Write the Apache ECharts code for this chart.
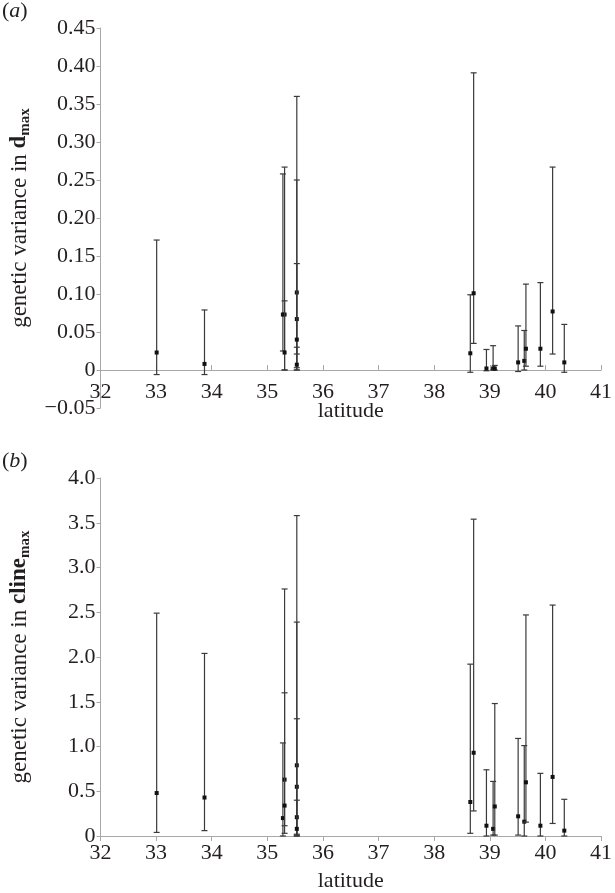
<!DOCTYPE html>
<html>
<head>
<meta charset="utf-8">
<script src="https://cdn.jsdelivr.net/npm/echarts@6/dist/echarts.min.js"></script>
<style>
html,body{margin:0;padding:0;background:#fff;}
#chart{width:615px;height:893px;}
</style>
</head>
<body>
<div id="chart"></div>
<script>
// Latitudes of populations (shared by both panels)
var latitude = [33.01, 33.87, 35.28, 35.31, 35.31, 35.53, 35.53, 35.53, 35.53,
  38.65, 38.71, 38.94, 39.06, 39.09, 39.51, 39.62, 39.65, 39.91, 40.13, 40.34];

// Panel (a): genetic variance in d_max
var dmaxValue = [0.023, 0.008, 0.073, 0.073, 0.023, 0.102, 0.067, 0.040, 0.007,
  0.022, 0.101, 0.002, 0.002, 0.002, 0.010, 0.012, 0.028, 0.028, 0.077, 0.010];
var dmaxLow = [-0.006, -0.006, 0.025, 0.000, 0.000, 0.021, 0.000, 0.003, 0.000,
  -0.003, 0.035, -0.001, 0.000, 0.000, -0.002, 0.000, 0.005, 0.005, 0.021, -0.003];
var dmaxHigh = [0.171, 0.079, 0.258, 0.267, 0.091, 0.360, 0.250, 0.140, 0.030,
  0.099, 0.391, 0.027, 0.032, 0.006, 0.058, 0.052, 0.113, 0.115, 0.267, 0.060];

// Panel (b): genetic variance in cline_max
var clineValue = [0.48, 0.43, 0.20, 0.63, 0.34, 0.79, 0.55, 0.21, 0.08,
  0.38, 0.93, 0.115, 0.08, 0.33, 0.22, 0.16, 0.60, 0.115, 0.66, 0.06];
var clineLow = [0.04, 0.06, 0.00, 0.115, 0.03, 0.02, 0.01, 0.00, 0.00,
  0.03, 0.28, 0.00, 0.01, 0.01, 0.01, 0.00, 0.155, 0.00, 0.14, 0.00];
var clineHigh = [2.49, 2.04, 1.04, 2.76, 1.60, 3.58, 2.39, 1.31, 0.40,
  1.92, 3.54, 0.74, 0.61, 1.48, 1.09, 1.01, 2.47, 0.70, 2.58, 0.41];

// Axis tick settings
var latTicks = {min: 32, max: 41, interval: 1};
var dmaxTicks = {min: -0.05, max: 0.45, interval: 0.05};
var clineTicks = {min: 0, max: 4, interval: 0.5};

function build(vals, lows, highs) {
  return latitude.map(function (l, i) { return [l, vals[i], lows[i], highs[i]]; });
}

var FONT = '"Liberation Serif", "Times New Roman", Times, serif';
var TXT = '#231f20';
var AX = '#a8a8a8';
var TICKFS = 22;
var NAMEFS = 23;

function renderErr(params, api) {
  var x = api.value(0), v = api.value(1), lo = api.value(2), hi = api.value(3);
  var pH = api.coord([x, hi]), pL = api.coord([x, lo]), pV = api.coord([x, v]);
  var cw = 3;
  var st = {stroke: '#3a3a3a', lineWidth: 1.2};
  return {
    type: 'group',
    children: [
      {type: 'line', shape: {x1: pH[0], y1: pH[1], x2: pL[0], y2: pL[1]}, style: st},
      {type: 'line', shape: {x1: pH[0] - cw, y1: pH[1], x2: pH[0] + cw, y2: pH[1]}, style: st},
      {type: 'line', shape: {x1: pL[0] - cw, y1: pL[1], x2: pL[0] + cw, y2: pL[1]}, style: st},
      {type: 'rect', shape: {x: pV[0] - 2, y: pV[1] - 2, width: 4, height: 4}, style: {fill: '#111'}}
    ]
  };
}

// Axis that carries labels and name (at the bottom of the grid)
function xLabelAxis(gi, labelMargin, gap) {
  return {
    type: 'value', gridIndex: gi, min: latTicks.min, max: latTicks.max, interval: latTicks.interval,
    name: 'latitude', nameLocation: 'middle', nameGap: gap, nameMoveOverlap: false,
    nameTextStyle: {fontFamily: FONT, fontSize: TICKFS, color: TXT},
    axisLine: {show: gi === 1, onZero: false, lineStyle: {color: AX, width: 1}},
    axisTick: {show: gi === 1, length: 5, lineStyle: {color: AX}},
    axisLabel: {fontFamily: FONT, fontSize: TICKFS, color: TXT, margin: labelMargin, hideOverlap: false},
    splitLine: {show: false}
  };
}

// Zero line of panel (a) with its tick marks
function xZeroAxis(gi) {
  return {
    type: 'value', gridIndex: gi, min: latTicks.min, max: latTicks.max, interval: latTicks.interval,
    axisLine: {show: true, onZero: true, lineStyle: {color: AX, width: 1}},
    axisTick: {show: true, length: 5, lineStyle: {color: AX}},
    axisLabel: {show: false},
    splitLine: {show: false}
  };
}

function yAxisCfg(gi, t, bold, fmt) {
  return {
    type: 'value', gridIndex: gi, min: t.min, max: t.max, interval: t.interval,
    name: '{n|genetic variance in }{b|' + bold + '}{s|max}',
    nameLocation: 'middle', nameGap: 68, nameRotate: 90,
    nameTextStyle: {
      fontFamily: FONT, fontSize: NAMEFS, color: TXT,
      rich: {
        n: {fontFamily: FONT, fontSize: NAMEFS, color: TXT},
        b: {fontFamily: FONT, fontSize: NAMEFS, fontWeight: 'bold', color: TXT},
        s: {fontFamily: FONT, fontSize: 15, fontWeight: 'bold', color: TXT, padding: [11, 0, 0, 0]}
      }
    },
    axisLine: {show: true, onZero: false, lineStyle: {color: AX, width: 1}},
    axisTick: {show: true, length: 4, lineStyle: {color: AX}},
    axisLabel: {fontFamily: FONT, fontSize: TICKFS, color: TXT, margin: 5, formatter: fmt},
    splitLine: {show: false}
  };
}

var chart = echarts.init(document.getElementById('chart'), null, {renderer: 'canvas'});
chart.setOption({
  backgroundColor: '#fff',
  animation: false,
  graphic: [
    {type: 'text', left: 2, top: 0, style: {text: '{p|(}{i|a}{p|)}', rich: {
      p: {fontFamily: FONT, fontSize: 22, fill: TXT},
      i: {fontFamily: FONT, fontSize: 22, fontStyle: 'italic', fill: TXT}}}},
    {type: 'text', left: 2, top: 450, style: {text: '{p|(}{i|b}{p|)}', rich: {
      p: {fontFamily: FONT, fontSize: 22, fill: TXT},
      i: {fontFamily: FONT, fontSize: 22, fontStyle: 'italic', fill: TXT}}}}
  ],
  grid: [
    {left: 94, right: 6, top: 28, height: 380},
    {left: 94, right: 6, top: 478, height: 360}
  ],
  xAxis: [xLabelAxis(0, -27, -8), xLabelAxis(1, 6, 34), xZeroAxis(0)],
  yAxis: [
    yAxisCfg(0, dmaxTicks, 'd', function (v) {
      if (Math.abs(v) < 1e-9) return '0';
      var s = Math.abs(v).toFixed(2);
      return v < 0 ? '\u2212' + s : s;
    }),
    yAxisCfg(1, clineTicks, 'cline', function (v) {
      if (Math.abs(v) < 1e-9) return '0';
      return v.toFixed(1);
    })
  ],
  series: [
    {type: 'custom', xAxisIndex: 0, yAxisIndex: 0, renderItem: renderErr,
      encode: {x: 0, y: [1, 2, 3]}, data: build(dmaxValue, dmaxLow, dmaxHigh), clip: false},
    {type: 'custom', xAxisIndex: 1, yAxisIndex: 1, renderItem: renderErr,
      encode: {x: 0, y: [1, 2, 3]}, data: build(clineValue, clineLow, clineHigh), clip: false}
  ]
});
</script>
</body>
</html>
